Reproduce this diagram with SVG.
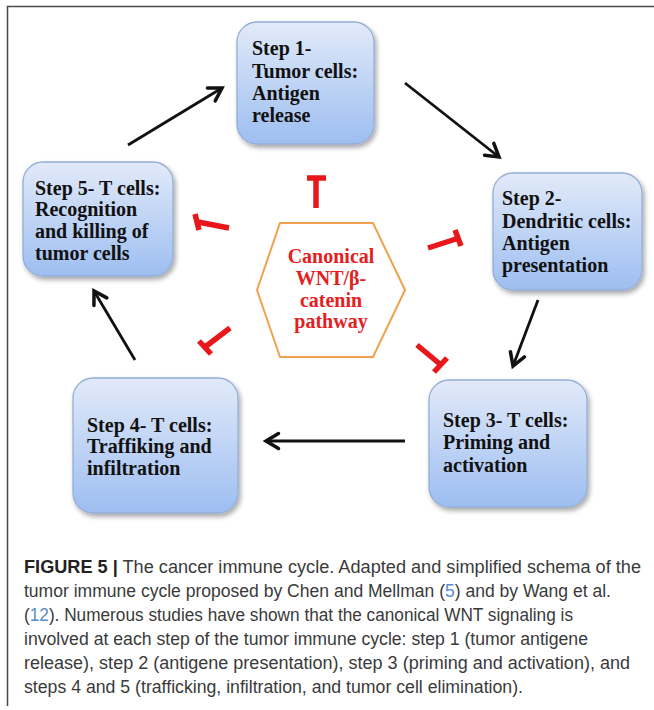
<svg xmlns="http://www.w3.org/2000/svg" width="654" height="710" viewBox="0 0 654 710">
<defs>
<linearGradient id="boxg" x1="0" y1="0" x2="0" y2="1">
<stop offset="0" stop-color="#e2eaf9"/>
<stop offset="1" stop-color="#9dbef1"/>
</linearGradient>
<filter id="sh" x="-20%" y="-20%" width="140%" height="140%">
<feGaussianBlur in="SourceAlpha" stdDeviation="2.5"/>
<feOffset dx="2" dy="3" result="b"/>
<feComponentTransfer><feFuncA type="linear" slope="0.35"/></feComponentTransfer>
<feMerge><feMergeNode/><feMergeNode in="SourceGraphic"/></feMerge>
</filter>
<marker id="arr" markerUnits="userSpaceOnUse" markerWidth="20" markerHeight="20" viewBox="-12 -8 16 16" refX="0" refY="0" orient="auto">
<path d="M-10,-6 L0,0 L-10,6" fill="none" stroke="#111" stroke-width="2.8" stroke-linejoin="miter" stroke-linecap="round"/>
</marker>
</defs>
<style>
.box{fill:url(#boxg);stroke:#93aed6;stroke-width:1.3;filter:url(#sh)}
.bt{font-family:"Liberation Serif","Times New Roman",serif;font-weight:bold;font-size:20px;fill:#111}
.ht{font-family:"Liberation Serif","Times New Roman",serif;font-weight:bold;font-size:20px;fill:#e4201f;text-anchor:middle}
.arrow{stroke:#111;stroke-width:2.8;fill:none;marker-end:url(#arr)}
.inh{stroke:#e8171b;stroke-width:5.5;fill:none;stroke-linecap:butt}
.cap{font-family:"Liberation Sans",Arial,sans-serif;font-size:17.5px;fill:#3a3a3a}
.ref{fill:#5b8cc8}
</style>
<rect width="654" height="710" fill="#fff"/>
<path d="M7.5,706 V6.5 H654" fill="none" stroke="#4a4a4a" stroke-width="1.5"/>

<g id="step1">
<rect class="box" x="237" y="22" width="137" height="122" rx="20"/>
<text class="bt"><tspan x="252" y="55">Step 1-</tspan><tspan x="252" y="78">Tumor cells:</tspan><tspan x="252" y="100">Antigen</tspan><tspan x="252" y="122">release</tspan></text>
</g>
<g id="step2">
<rect class="box" x="493" y="173" width="149" height="117" rx="20"/>
<text class="bt"><tspan x="502" y="205">Step 2-</tspan><tspan x="502" y="228">Dendritic cells:</tspan><tspan x="502" y="250">Antigen</tspan><tspan x="502" y="272">presentation</tspan></text>
</g>
<g id="step3">
<rect class="box" x="429" y="380" width="158" height="127" rx="20"/>
<text class="bt"><tspan x="443" y="427">Step 3- T cells:</tspan><tspan x="443" y="449">Priming and</tspan><tspan x="443" y="472">activation</tspan></text>
</g>
<g id="step4">
<rect class="box" x="73" y="378" width="165" height="135" rx="20"/>
<text class="bt"><tspan x="87" y="432">Step 4- T cells:</tspan><tspan x="87" y="453">Traffiking and</tspan><tspan x="87" y="475">infiltration</tspan></text>
</g>
<g id="step5">
<rect class="box" x="23" y="162" width="150" height="114" rx="20"/>
<text class="bt"><tspan x="35" y="195">Step 5- T cells:</tspan><tspan x="35" y="216">Recognition</tspan><tspan x="35" y="238">and killing of</tspan><tspan x="35" y="260">tumor cells</tspan></text>
</g>
<g id="wnt">
<polygon points="280,223 373,223 405,290 373,357 280,357 257,290" fill="#fff" stroke="#f0a04e" stroke-width="2"/>
<text class="ht"><tspan x="331" y="263">Canonical</tspan><tspan x="331" y="285">WNT/β-</tspan><tspan x="331" y="307">catenin</tspan><tspan x="331" y="328">pathway</tspan></text>
</g>

<g id="connectors">
<line class="arrow" x1="128" y1="145" x2="222" y2="88"/>
<line class="arrow" x1="405" y1="83" x2="499" y2="157"/>
<line class="arrow" x1="538" y1="300" x2="513" y2="366"/>
<line class="arrow" x1="405" y1="441" x2="266" y2="441"/>
<line class="arrow" x1="135" y1="360" x2="94" y2="291"/>
<g id="inhibitions">
<path class="inh" d="M316,208 V178 M307,178 H326"/>
<path class="inh" d="M229,228 L198,222 M195,214 L199,230"/>
<path class="inh" d="M428,248 L459,238 M455,230 L461,246"/>
<path class="inh" d="M230,328 L205,347 M199,341 L211,354"/>
<path class="inh" d="M417,345 L441,365 M447,358 L434,372"/>
</g>
</g>

<g id="caption">
<text class="cap" x="24" y="573" textLength="617" lengthAdjust="spacingAndGlyphs"><tspan font-weight="bold" fill="#222">FIGURE 5 |</tspan> The cancer immune cycle. Adapted and simplified schema of the</text>
<text class="cap" x="24" y="597" textLength="587" lengthAdjust="spacingAndGlyphs">tumor immune cycle proposed by Chen and Mellman (<tspan class="ref">5</tspan>) and by Wang et al.</text>
<text class="cap" x="24" y="621" textLength="549" lengthAdjust="spacingAndGlyphs">(<tspan class="ref">12</tspan>). Numerous studies have shown that the canonical WNT signaling is</text>
<text class="cap" x="24" y="645" textLength="564" lengthAdjust="spacingAndGlyphs">involved at each step of the tumor immune cycle: step 1 (tumor antigene</text>
<text class="cap" x="24" y="669" textLength="606" lengthAdjust="spacingAndGlyphs">release), step 2 (antigene presentation), step 3 (priming and activation), and</text>
<text class="cap" x="24" y="693" textLength="499" lengthAdjust="spacingAndGlyphs">steps 4 and 5 (trafficking, infiltration, and tumor cell elimination).</text>
</g>
</svg>
